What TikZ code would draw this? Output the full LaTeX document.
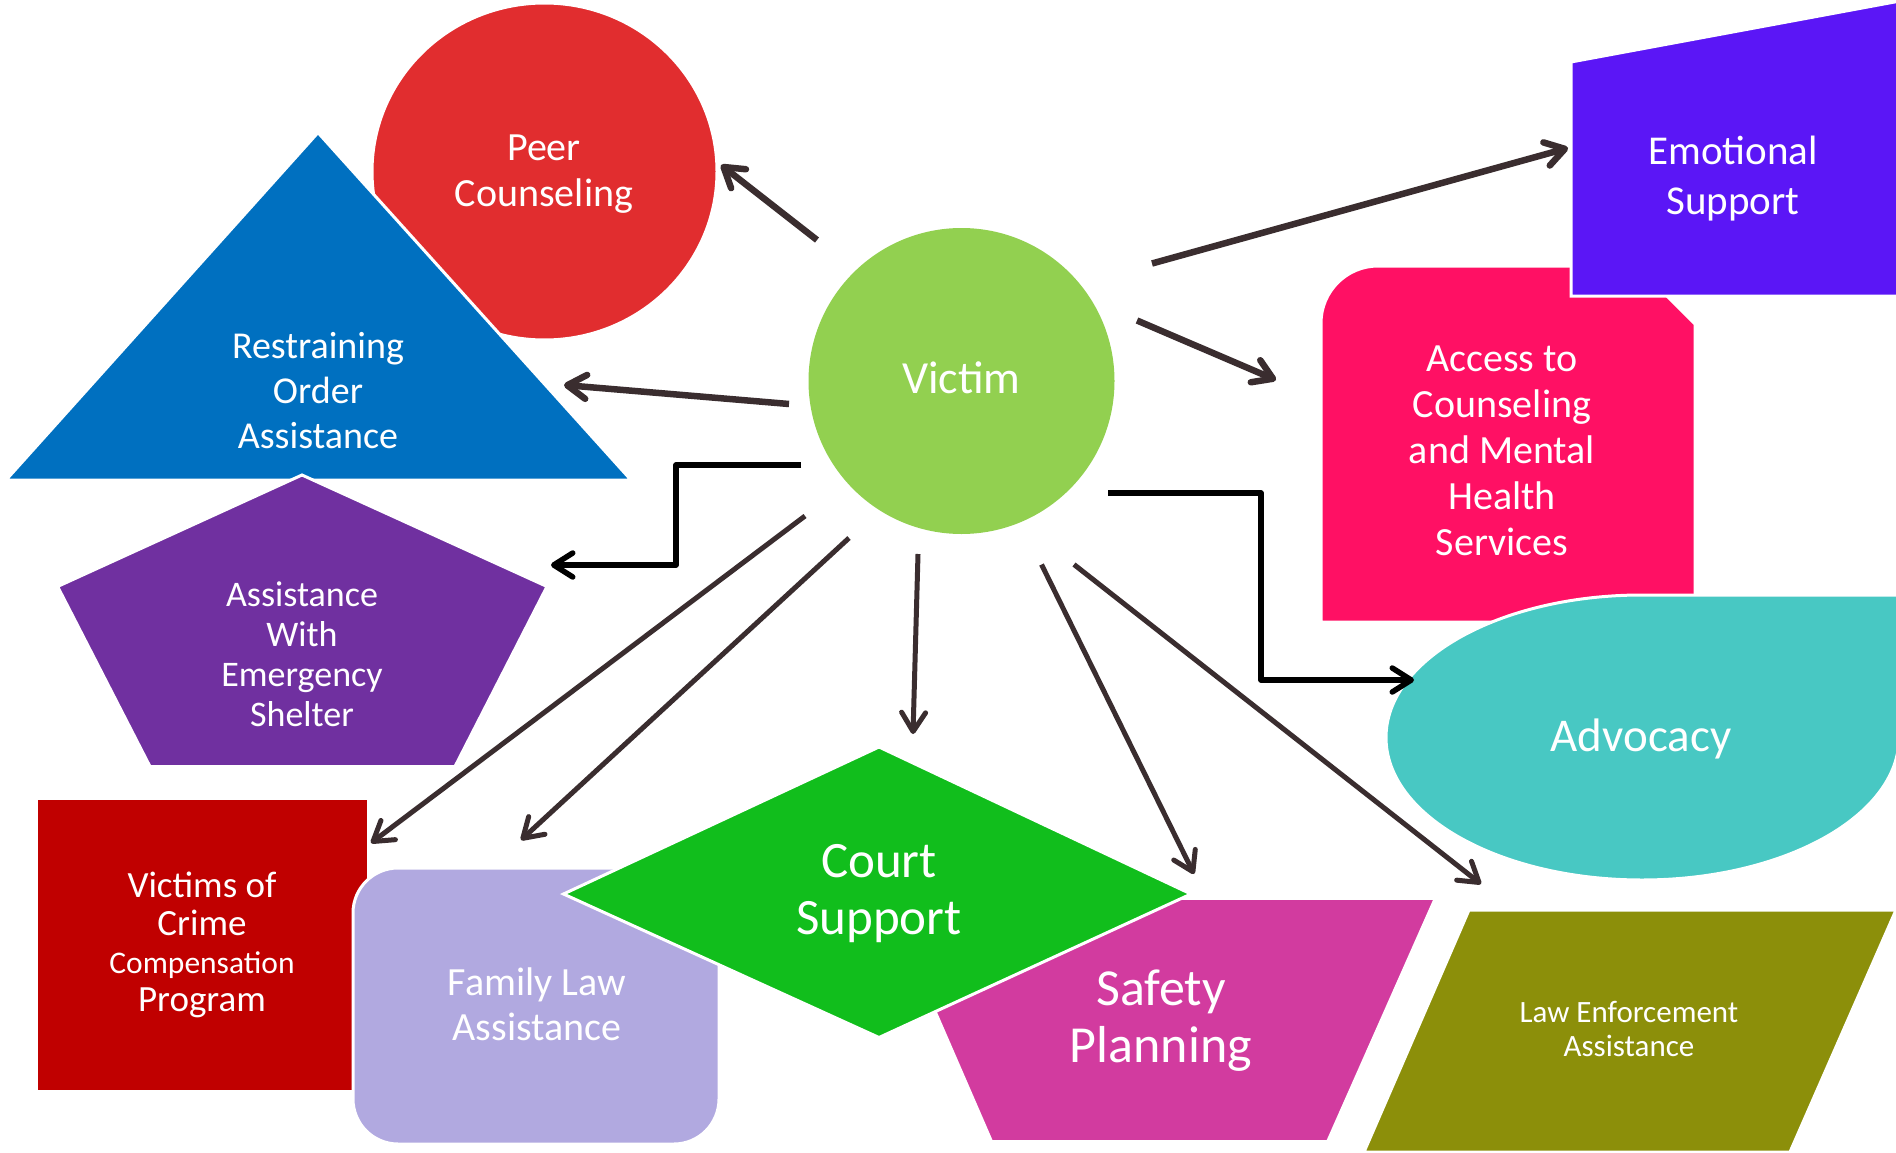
\documentclass[tikz,border=0pt]{standalone}
\usepackage{fontspec}
\setmainfont{Carlito}
\usetikzlibrary{arrows.meta,calc}
\definecolor{peerc}{HTML}{E12D2F}
\definecolor{restrc}{HTML}{0070C0}
\definecolor{shelc}{HTML}{7030A0}
\definecolor{vocc}{HTML}{C00000}
\definecolor{famc}{HTML}{B1A9E0}
\definecolor{courtc}{HTML}{11BE1C}
\definecolor{safec}{HTML}{D23B9F}
\definecolor{lawc}{HTML}{8C8F0A}
\definecolor{advc}{HTML}{48C8C3}
\definecolor{accc}{HTML}{FF1064}
\definecolor{emoc}{HTML}{5B16F6}
\definecolor{victc}{HTML}{92D050}
\definecolor{arrc}{HTML}{3A2D2F}
\begin{document}
\begin{tikzpicture}[x=1pt,y=-1pt,
  shp/.style={draw=white,line width=3pt,line join=miter},
  lbl/.style={text=white,align=center,inner sep=0pt},
  arr/.style={draw=arrc,line width=5pt,-{Straight Barb[length=19pt,width=24pt,round]}},
  thickarr/.style={arr,line width=6.5pt},
  elb/.style={draw=black,line width=5.5pt,line join=round,-{Straight Barb[length=19pt,width=24pt,round]}}]
\useasboundingbox[fill=white] (0,0) rectangle (1896,1153);

% shapes
\path[shp,fill=peerc] (544.5,171.5) ellipse[x radius=172.5,y radius=168.5];
\path[shp,fill=restrc] (318,132.6) -- (631,480) -- (6,480) -- cycle;
\path[shp,fill=shelc] (302,475) -- (547,586.5) -- (455,766.5) -- (150,766.5) -- (57.6,586.5) -- cycle;
\path[shp,fill=vocc] (36,798) rectangle (368,1091);
\path[shp,fill=famc,rounded corners=45pt] (353,868) rectangle (719,1144);
\path[shp,fill=safec] (886,898.4) -- (1435.3,898.4) -- (1327.7,1141.5) -- (991.5,1141.5) -- cycle;
\path[shp,fill=courtc] (563.5,894) -- (879,747) -- (1191,894) -- (879,1037.5) -- cycle;
\path[shp,fill=lawc] (1469,910) -- (1896,910) -- (1790,1152) -- (1364,1152) -- cycle;
\path[shp,fill=accc] (1321,622) -- (1321,323) .. controls (1321,291.5) and (1346.5,266) .. (1378,266) -- (1637,266) -- (1695,324) -- (1695,622) -- cycle;
\path[shp,fill=emoc] (1571,62) -- (1900,1) -- (1900,296) -- (1571,296) -- cycle;
\path[shp,fill=advc] (1642,595) -- (1899,595) -- (1899,737.5) .. controls (1899,816.2) and (1783.4,880) .. (1642,880) .. controls (1500.6,880) and (1386,816.2) .. (1386,737.5) .. controls (1386,658.8) and (1500.6,595) .. (1642,595) -- cycle;
\path[fill=victc] (961.5,381) circle[radius=153];

% labels
\node[lbl,font=\fontsize{46}{55}\selectfont] (victim) at (961.5,382) {\strut Victim};
\node[lbl,font=\fontsize{40}{46}\selectfont] (peer) at (544,174) {\strut Peer\\\strut Counseling};
\node[lbl,font=\fontsize{38}{45}\selectfont] (restr) at (318,394) {\strut Restraining\\\strut Order\\\strut Assistance};
\node[lbl,font=\fontsize{36}{40}\selectfont] (shelter) at (302,658) {\strut Assistance\\\strut With\\\strut Emergency\\\strut Shelter};
\node[lbl,font=\fontsize{37}{38}\selectfont] (voc) at (202,947) {\strut Victims of\\\strut Crime\\\strut{\fontsize{31.5}{38}\selectfont Compensation}\\\strut Program};
\node[lbl,font=\fontsize{40}{45}\selectfont] (family) at (537,1008.5) {\strut Family Law\\\strut Assistance};
\node[lbl,font=\fontsize{51}{57}\selectfont] (court) at (879,894.5) {\strut Court\\\strut Support};
\node[lbl,font=\fontsize{52}{57}\selectfont] (safety) at (1161,1023) {\strut Safety\\\strut Planning};
\node[lbl,font=\fontsize{31}{34}\selectfont] (law) at (1629,1033) {\strut Law Enforcement\\\strut Assistance};
\node[lbl,font=\fontsize{47}{56}\selectfont] (advocacy) at (1641,740) {\strut Advocacy};
\node[lbl,font=\fontsize{41}{50}\selectfont] (emotional) at (1733,179.6) {\strut Emotional\\\strut Support};
\node[lbl,font=\fontsize{40}{46}\selectfont] (access) at (1502,454) {\strut Access to\\\strut Counseling\\\strut and Mental\\\strut Health\\\strut Services};

% connector end points
\coordinate (peerS) at (817,240);     \coordinate (peerE) at (721,165);
\coordinate (restS) at (789,404);     \coordinate (restE) at (564,385);
\coordinate (shelS) at (801,465);     \coordinate (shelE) at (551,565);
\coordinate (vocS) at (805,516);      \coordinate (vocE) at (371,843);
\coordinate (famS) at (849,538);      \coordinate (famE) at (521,840);
\coordinate (courtS) at (918,554);    \coordinate (courtE) at (913,734);
\coordinate (safeS) at (1041.5,564.5);\coordinate (safeE) at (1194,874);
\coordinate (lawS) at (1074,564.5);   \coordinate (lawE) at (1481,884);
\coordinate (advS) at (1108,493);     \coordinate (advE) at (1414,680);
\coordinate (accS) at (1137,320.5);   \coordinate (accE) at (1276,380);
\coordinate (emoS) at (1152,263.5);   \coordinate (emoE) at (1568,148);

% connectors
\draw[thickarr] (peerS) -- (peerE);
\draw[thickarr] (restS) -- (restE);
\draw[elb] (shelS) -| ($(shelS)!0.5!(shelE)$) |- (shelE);
\draw[arr] (vocS) -- (vocE);
\draw[arr] (famS) -- (famE);
\draw[arr] (courtS) -- (courtE);
\draw[arr] (safeS) -- (safeE);
\draw[arr] (lawS) -- (lawE);
\draw[elb] (advS) -| ($(advS)!0.5!(advE)$) |- (advE);
\draw[thickarr] (accS) -- (accE);
\draw[thickarr] (emoS) -- (emoE);
\end{tikzpicture}
\end{document}
